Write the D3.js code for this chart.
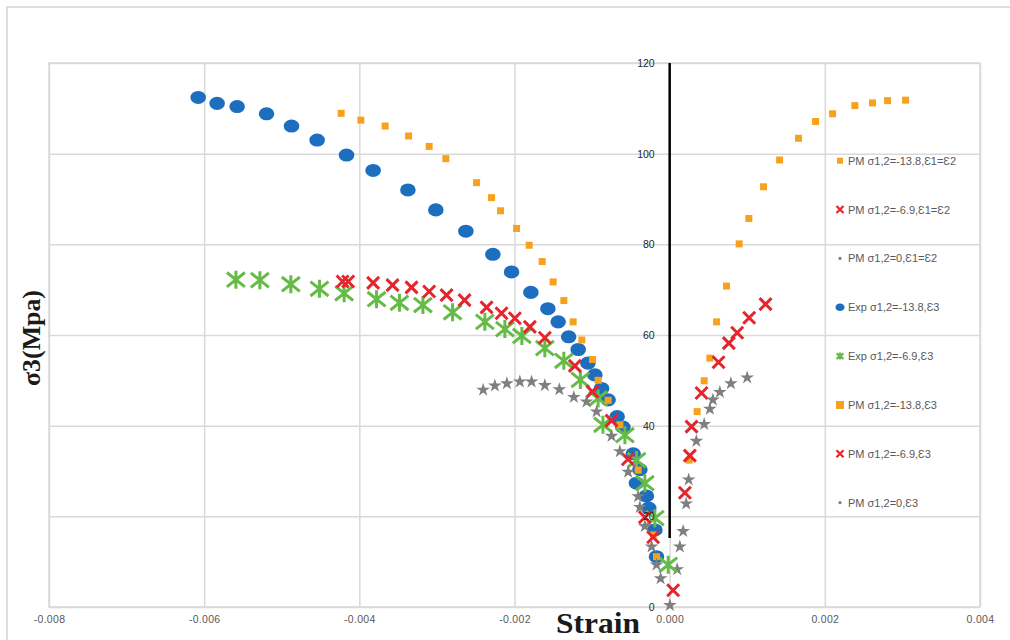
<!DOCTYPE html>
<html>
<head>
<meta charset="utf-8">
<script src="https://cdn.jsdelivr.net/npm/d3@7"></script>
<style>
  body { margin: 0; background: #fff; }
  svg { display: block; font-family: 'Liberation Sans', Arial, sans-serif; }
</style>
</head>
<body>
<svg id="chart" width="1010" height="640"></svg>
<script>
// [strain, σ3 (MPa)], one array per series
const pm138E12 = [
  [0.003041, 111.8], [0.002809, 111.7], [0.002615, 111.2], [0.002387, 110.6],
  [0.0021, 108.8], [0.001881, 107.1], [0.001661, 103.4], [0.001417, 98.6],
  [0.00121, 92.7], [0.001021, 85.7], [0.000896, 80.1], [0.000733, 70.8],
  [0.000605, 62.9], [0.000518, 54.9], [0.000445, 49.9], [0.000354, 43.1],
  [0.000251, 32.4],
];
const pm69E12 = [
  [0.001236, 66.8], [0.001025, 63.8], [0.00087, 60.5], [0.000763, 58.2],
  [0.00063, 54.0], [0.000411, 47.2], [0.000282, 39.8], [0.00026, 33.4],
  [0.000196, 25.2],
];
const pm0E12 = [
  [0.000999, 50.6], [0.000789, 49.3], [0.000647, 47.4], [0.000557, 45.7],
  [0.000518, 43.7], [0.000445, 40.3], [0.000344, 36.6], [0.000245, 28.1],
  [0.000213, 22.8], [0.000174, 16.7], [0.000131, 13.3], [0.000097, 8.3],
  [0.000003, 0.4],
];
const exp138E3 = [
  [-0.006077, 112.4], [-0.005833, 111.1], [-0.005575, 110.4], [-0.005196, 108.8],
  [-0.004874, 106.1], [-0.004544, 103.0], [-0.004165, 99.7], [-0.003822, 96.3],
  [-0.003374, 92.0], [-0.003014, 87.6], [-0.002627, 82.9], [-0.002279, 77.8],
  [-0.002038, 73.9], [-0.001789, 69.4], [-0.00157, 65.8], [-0.001437, 62.9],
  [-0.001302, 59.6], [-0.001179, 56.8], [-0.001054, 53.8], [-0.000964, 51.2],
  [-0.000878, 48.2], [-0.000793, 45.7], [-0.000677, 42.0], [-0.000603, 39.7],
  [-0.00047, 33.8], [-0.000384, 30.3], [-0.000428, 27.3], [-0.0003, 24.5],
  [-0.00027, 21.8], [-0.00019, 17.0], [-0.00017, 11.1],
];
const exp69E3 = [
  [-0.005591, 72.2], [-0.005282, 72.1], [-0.004883, 71.2], [-0.004514, 70.2],
  [-0.004196, 69.2], [-0.003778, 67.9], [-0.003483, 67.1], [-0.003181, 66.6],
  [-0.002798, 65.0], [-0.002382, 62.9], [-0.002124, 61.3], [-0.001905, 59.8],
  [-0.001609, 57.1], [-0.001364, 54.3], [-0.001151, 50.1], [-0.000922, 46.0],
  [-0.00086, 40.2], [-0.000577, 37.9], [-0.000427, 32.4], [-0.00032, 27.3],
  [-0.000191, 19.6], [-0.000019, 9.3],
];
const pm138E3 = [
  [-0.004234, 108.9], [-0.00398, 107.4], [-0.003667, 106.1], [-0.003365, 103.9],
  [-0.0031, 101.6], [-0.002885, 98.9], [-0.002489, 93.6], [-0.002296, 90.3],
  [-0.00218, 87.4], [-0.001973, 83.5], [-0.001811, 79.8], [-0.001643, 76.2],
  [-0.001502, 71.7], [-0.001364, 67.6], [-0.001244, 62.9], [-0.001132, 58.9],
  [-0.000994, 54.6], [-0.000922, 50.0], [-0.000793, 45.6], [-0.000642, 40.2],
  [-0.000406, 30.2], [-0.00021, 15.9], [-0.00017, 11.1],
];
const pm69E3 = [
  [-0.004216, 71.8], [-0.004144, 71.8], [-0.003822, 71.5], [-0.003572, 71.0],
  [-0.003327, 70.5], [-0.0031, 69.6], [-0.002876, 68.8], [-0.002644, 67.7],
  [-0.00236, 66.1], [-0.002167, 64.8], [-0.001995, 63.7], [-0.001802, 61.8],
  [-0.001609, 59.4], [-0.001222, 53.2], [-0.000996, 47.5], [-0.000749, 41.1],
  [-0.000539, 32.6], [-0.00032, 19.8], [-0.000213, 15.4], [0.000045, 3.7],
];
const pm0E3 = [
  [-0.002404, 47.9], [-0.002253, 48.8], [-0.002098, 49.3], [-0.001931, 49.7],
  [-0.00178, 49.7], [-0.001609, 48.9], [-0.001422, 48.0], [-0.001235, 46.3],
  [-0.001071, 45.3], [-0.000942, 43.1], [-0.000749, 37.7], [-0.000642, 34.3],
  [-0.000535, 29.8], [-0.000406, 24.4], [-0.000384, 22.0], [-0.00032, 17.8],
  [-0.000233, 13.3], [-0.000169, 9.3], [-0.000117, 6.3],
];

const seriesNames = [
  'PM σ1,2=-13.8,Ɛ1=Ɛ2', 'PM σ1,2=-6.9,Ɛ1=Ɛ2', 'PM σ1,2=0,Ɛ1=Ɛ2',
  'Exp σ1,2=-13.8,Ɛ3', 'Exp σ1,2=-6.9,Ɛ3', 'PM σ1,2=-13.8,Ɛ3',
  'PM σ1,2=-6.9,Ɛ3', 'PM σ1,2=0,Ɛ3',
];
const xTicks = [-0.008, -0.006, -0.004, -0.002, 0, 0.002, 0.004];
const yTicks = [0, 20, 40, 60, 80, 100, 120];

class ScatterChart {
  constructor(_config, _series) {
    this.config = {
      parentElementSelector: _config.parentElementSelector,
      margin: _config.margin || { top: 63, right: 30, bottom: 33, left: 49 },
      width: 1010,
      height: 640,
    };
    this.series = _series;
    this.initVis();
  }

  isStroked(shape) {
    return shape === 'cross' || shape === 'asterisk';
  }

  // marker shapes, all centred on 0,0
  shapePath(shape, s) {
    if (shape === 'square') return `M${-s / 2},${-s / 2}h${s}v${s}h${-s}Z`;
    if (shape === 'cross') return `M${-s},${-s}L${s},${s}M${s},${-s}L${-s},${s}`;
    if (shape === 'asterisk')
      return `M${-s},${-s * 0.8}L${s},${s * 0.8}M${s},${-s * 0.8}L${-s},${s * 0.8}M0,${-s}V${s}`;
    if (shape === 'star') return d3.symbol(d3.symbolStar, s)();
    if (shape === 'ellipse') {
      const rx = s, ry = s * 0.84;
      return `M${-rx},0a${rx},${ry} 0 1,0 ${2 * rx},0a${rx},${ry} 0 1,0 ${-2 * rx},0Z`;
    }
    // tiny dot
    return `M${-s},0a${s},${s} 0 1,0 ${2 * s},0a${s},${s} 0 1,0 ${-2 * s},0Z`;
  }

  initVis() {
    const m = this.config.margin;
    this.width = this.config.width - m.left - m.right;
    this.height = this.config.height - m.top - m.bottom;

    this.xScale = d3.scaleLinear().domain([-0.008, 0.004]).range([0, this.width]);
    this.yScale = d3.scaleLinear().domain([0, 120]).range([this.height, 0]);

    this.svg = d3.select(this.config.parentElementSelector);

    // outer frame of the figure
    this.svg.append('path')
      .attr('d', 'M7,640V7H1010')
      .attr('fill', 'none')
      .attr('stroke', '#d4d4d4')
      .attr('stroke-width', 1.5);

    this.chart = this.svg.append('g')
      .attr('transform', `translate(${m.left},${m.top})`);

    // gridlines
    this.chart.append('g')
      .attr('class', 'grid x-grid')
      .attr('transform', `translate(0,${this.height})`)
      .call(d3.axisBottom(this.xScale).tickValues(xTicks).tickSize(-this.height).tickFormat(''))
      .call((g) => g.select('.domain').remove())
      .selectAll('line').attr('stroke', '#d9d9d9').attr('stroke-width', 1.5);

    this.chart.append('g')
      .attr('class', 'grid y-grid')
      .call(d3.axisLeft(this.yScale).tickValues(yTicks).tickSize(-this.width).tickFormat(''))
      .call((g) => g.select('.domain').remove())
      .selectAll('line').attr('stroke', '#d9d9d9').attr('stroke-width', 1.5);

    this.chart.append('rect')
      .attr('width', this.width)
      .attr('height', this.height)
      .attr('fill', 'none')
      .attr('stroke', '#d9d9d9')
      .attr('stroke-width', 1.5);

    // x tick labels under the plot
    const xAxisG = this.chart.append('g')
      .attr('class', 'axis x-axis')
      .attr('transform', `translate(0,${this.height})`)
      .call(d3.axisBottom(this.xScale).tickValues(xTicks).tickSize(0).tickPadding(9)
        .tickFormat((d) => d.toFixed(3)));
    xAxisG.select('.domain').remove();
    xAxisG.selectAll('text')
      .attr('fill', '#595959')
      .style('font-size', '10.5px')
      .style('letter-spacing', '0.3px');

    // vertical axis line (hidden behind the markers near the origin)
    this.chart.append('line')
      .attr('x1', this.xScale(0))
      .attr('x2', this.xScale(0))
      .attr('y1', this.yScale(120))
      .attr('y2', this.yScale(15.2))
      .attr('stroke', '#000')
      .attr('stroke-width', 2.5);

    // axis titles
    this.svg.append('text')
      .attr('transform', 'translate(40,338) rotate(-90)')
      .attr('text-anchor', 'middle')
      .attr('textLength', 96)
      .attr('lengthAdjust', 'spacingAndGlyphs')
      .style('font-family', "'Liberation Serif', 'Times New Roman', serif")
      .style('font-weight', 'bold')
      .style('font-size', '26px')
      .attr('fill', '#1a1a1a')
      .text('σ3(Mpa)');

    this.svg.append('text')
      .attr('x', 598)
      .attr('y', 633)
      .attr('text-anchor', 'middle')
      .attr('textLength', 84)
      .attr('lengthAdjust', 'spacingAndGlyphs')
      .style('font-family', "'Liberation Serif', 'Times New Roman', serif")
      .style('font-weight', 'bold')
      .style('font-size', '30px')
      .attr('fill', '#1a1a1a')
      .text('Strain');

    this.updateVis();
  }

  updateVis() {
    const markerGroup = this.chart.append('g').attr('class', 'markers');
    this.series.forEach((s) => {
      const stroked = this.isStroked(s.shape);
      markerGroup.append('g')
        .attr('class', 'series')
        .selectAll('path')
        .data(s.data)
        .join('path')
        .attr('transform', (d) => `translate(${this.xScale(d[0])},${this.yScale(d[1])})`)
        .attr('d', this.shapePath(s.shape, s.size))
        .attr('fill', stroked ? 'none' : s.color)
        .attr('stroke', stroked ? s.color : 'none')
        .attr('stroke-width', stroked ? s.stroke : 0);
    });

    // y tick labels sit beside the zero strain line, over the markers
    const yAxisG = this.chart.append('g')
      .attr('class', 'axis y-axis')
      .attr('transform', `translate(${this.xScale(0)},0)`)
      .call(d3.axisLeft(this.yScale).tickValues(yTicks).tickSize(0).tickPadding(15));
    yAxisG.select('.domain').remove();
    yAxisG.selectAll('text')
      .attr('fill', '#262626')
      .style('font-size', '10.5px');

    // legend on the right side
    const legend = this.svg.append('g').attr('class', 'legend');
    const entries = legend.selectAll('.legend-entry')
      .data(this.series)
      .join('g')
      .attr('class', 'legend-entry')
      .attr('transform', (d, i) => `translate(840,${160.7 + i * 48.85})`);
    entries.append('path')
      .attr('d', (d) => this.shapePath(d.legendShape || d.shape, d.legendSize))
      .attr('fill', (d) => (this.isStroked(d.shape) ? 'none' : d.color))
      .attr('stroke', (d) => (this.isStroked(d.shape) ? d.color : 'none'))
      .attr('stroke-width', (d) => (this.isStroked(d.shape) ? 2.2 : 0));
    entries.append('text')
      .attr('x', 8)
      .attr('dy', '0.36em')
      .attr('fill', '#595959')
      .style('font-size', '11px')
      .text((d) => d.name);
  }
}

const orange = '#f6a21d';
const red = '#e5252c';
const gray = '#7f7f7f';
const blue = '#1e6ebf';
const green = '#64bb45';

const series = [
  { name: seriesNames[0], data: pm138E12, shape: 'square', color: orange, size: 7, legendSize: 6 },
  { name: seriesNames[1], data: pm69E12, shape: 'cross', color: red, size: 6, stroke: 3, legendSize: 3.5 },
  { name: seriesNames[2], data: pm0E12, shape: 'star', color: gray, size: 58, legendShape: 'dot', legendSize: 1.6 },
  { name: seriesNames[3], data: exp138E3, shape: 'ellipse', color: blue, size: 7.8, legendSize: 4.5 },
  { name: seriesNames[4], data: exp69E3, shape: 'asterisk', color: green, size: 9, stroke: 3, legendSize: 3.5 },
  { name: seriesNames[5], data: pm138E3, shape: 'square', color: orange, size: 7, legendSize: 8 },
  { name: seriesNames[6], data: pm69E3, shape: 'cross', color: red, size: 6, stroke: 3, legendSize: 3.5 },
  { name: seriesNames[7], data: pm0E3, shape: 'star', color: gray, size: 58, legendShape: 'dot', legendSize: 1.6 },
];

const chart = new ScatterChart({ parentElementSelector: '#chart' }, series);
</script>
</body>
</html>
